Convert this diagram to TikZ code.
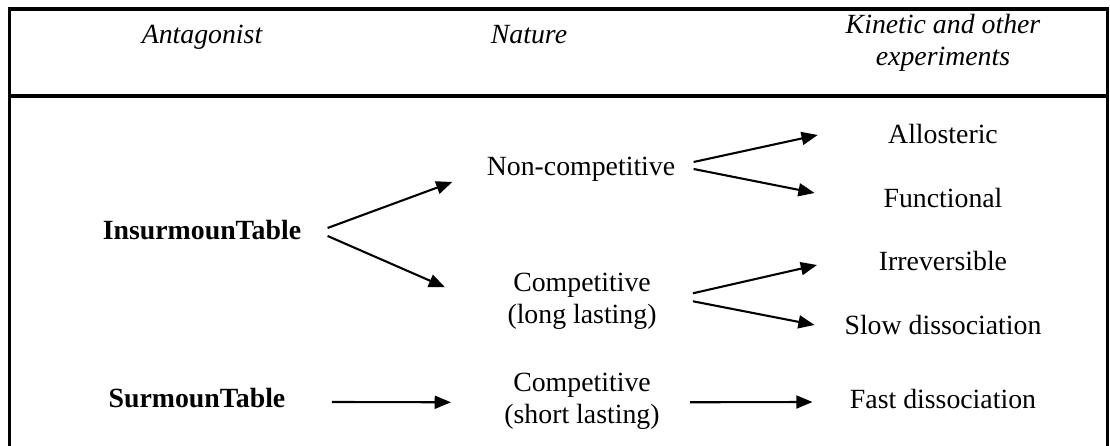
\documentclass[tikz,border=0pt]{standalone}
\usepackage{fontspec}
\setmainfont{Liberation Serif}
\usepackage{tikz}
\usetikzlibrary{arrows.meta}

\begin{document}
\begin{tikzpicture}[x=0.4317pt, y=-0.4317pt, font=\fontsize{12}{13.4}\selectfont,
      t/.style={inner sep=0pt, anchor=base, text height=8.4pt, text depth=2.6pt},
      tt/.style={inner sep=0pt, anchor=base, align=center},
      hd/.style={font=\fontsize{12}{13.4}\selectfont\itshape},
      a/.style={-{Triangle[length=7pt, width=5.6pt]}, line width=0.9pt},
      rule/.style={line width=1.3pt}]
    \useasboundingbox (0,0) rectangle (1110,446);
    % frame and header rule
    \draw[rule] (9.5,446) -- (9.5,9) -- (1107.5,9) -- (1107.5,446);
    \draw[rule] (9.5,96) -- (1107.5,96);
    % header
    \node[t, hd] (hant) at (202,43) {Antagonist};
    \node[t, hd] (hnat) at (529,43) {Nature};
    \node[tt, hd] (hkin) at (943,65) {Kinetic and other\\experiments};
    % antagonists
    \node[t, font=\fontsize{12}{13.4}\selectfont\bfseries] (ins) at (202,239) {InsurmounTable};
    \node[t, font=\fontsize{12}{13.4}\selectfont\bfseries] (sur) at (197,407) {SurmounTable};
    % nature
    \node[t] (noncomp) at (581,175) {Non-competitive};
    \node[tt] (complong) at (582,323) {Competitive\\(long lasting)};
    \node[tt] (compshort) at (582,423) {Competitive\\(short lasting)};
    % experiments
    \node[t] (allo) at (943,143) {Allosteric};
    \node[t] (func) at (943,207) {Functional};
    \node[t] (irr) at (943,270) {Irreversible};
    \node[t] (slow) at (943,334) {Slow dissociation};
    \node[t] (fast) at (943,408) {Fast dissociation};
    % arrows
    \draw[a] ([shift={(26,-4.3)}]ins.east) -- ([shift={(-34,13.7)}]noncomp.west);
    \draw[a] ([shift={(26,3.7)}]ins.east) -- ([shift={(-62,-14)}]complong.west);
    \draw[a] ([shift={(18,-6.3)}]noncomp.east) -- ([shift={(-70,-1.3)}]allo.west);
    \draw[a] ([shift={(18,0.7)}]noncomp.east) -- ([shift={(-68.5,-7.3)}]func.west);
    \draw[a] ([shift={(36,-8)}]complong.east) -- ([shift={(-61.5,1.7)}]irr.west);
    \draw[a] ([shift={(36,0)}]complong.east) -- ([shift={(-29.5,-2.3)}]slow.west);
    \draw[a] ([shift={(46,1.7)}]sur.east) -- ([shift={(-53,1)}]compshort.west);
    \draw[a] ([shift={(30,1)}]compshort.east) -- ([shift={(-37,0.7)}]fast.west);
  \end{tikzpicture}
\end{document}
